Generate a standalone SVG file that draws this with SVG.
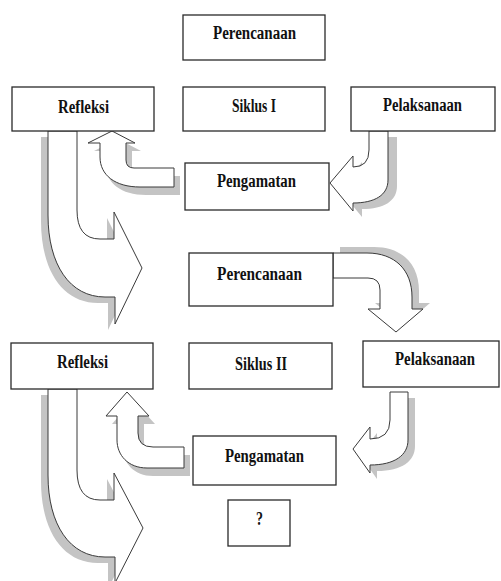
<svg xmlns="http://www.w3.org/2000/svg" xmlns:xlink="http://www.w3.org/1999/xlink" width="501" height="581" viewBox="0 0 501 581">
<style>
.box{fill:#fff;stroke:#2a2a2a;stroke-width:1.3}
.arr{fill:#fff;stroke:#3a3a3a;stroke-width:1}
.shd{fill:#c4c4c4;stroke:none}
text{font-family:"Liberation Serif","Times New Roman",serif;font-weight:bold;font-size:18px;fill:#111}
</style>
<defs>
<path id="A1" d="M48,131 L77,131 L77,210 Q77,239 100,239 L114,239 L114,212 L142,268 L115,324 L115,297 L105,297 C70,297 48,265 48,215 Z"/>
<path id="A2" d="M48,389 L77,389 L77,470 Q77,500 100,500 L114,500 L114,473 L143,528 L115,583 L115,557 L105,557 C70,557 48,525 48,475 Z"/>
<path id="U1" d="M112,131 L135,143 L126,143 L126,160 Q126,168 134,168 L174,168 L174,187 L140,187 C115,187 100,175 100,157 L100,143 L88,143 Z"/>
<path id="U2" d="M127,392 L149,416 L138,416 L138,433 Q138,447 153,447 L184,447 L184,468 L147,468 C128,468 117,455 117,440 L117,416 L106,416 Z"/>
<path id="P1" d="M369,131 L388,131 L388,180 C388,195 375,203 353,203 L353,211 L330,183 L353,156 L353,167 Q369,167 369,150 Z"/>
<path id="P2" d="M390,392 L408,392 L408,440 C408,455 395,465 370,465 L370,473 L353,449 L370,427 L370,439 Q390,439 390,420 Z"/>
<path id="D" d="M333,253 L367,253 C395,253 412,270 412,297 L412,309 L423,309 L396,332 L368,309 L380,309 L380,290 Q380,278 368,278 L333,278 Z"/>
</defs>
<g id="connectors">
<use xlink:href="#A1" class="shd" transform="translate(-7,6)"/>
<use xlink:href="#A2" class="shd" transform="translate(-7,6)"/>
<use xlink:href="#U1" class="shd" transform="translate(6,8)"/>
<use xlink:href="#U2" class="shd" transform="translate(6,8)"/>
<use xlink:href="#P1" class="shd" transform="translate(9,6)"/>
<use xlink:href="#P2" class="shd" transform="translate(7,6)"/>
<use xlink:href="#D" class="shd" transform="translate(7,-6)"/>
<use xlink:href="#A1" class="arr"/>
<use xlink:href="#A2" class="arr"/>
<use xlink:href="#U1" class="arr"/>
<use xlink:href="#U2" class="arr"/>
<use xlink:href="#P1" class="arr"/>
<use xlink:href="#P2" class="arr"/>
<use xlink:href="#D" class="arr"/>
</g>
<g id="perencanaan1"><rect class="box" x="183" y="15" width="142" height="45"/><text x="213" y="39" textLength="83" lengthAdjust="spacingAndGlyphs">Perencanaan</text></g>
<g id="refleksi1"><rect class="box" x="12" y="87" width="142" height="44"/><text x="58" y="113" textLength="51" lengthAdjust="spacingAndGlyphs">Refleksi</text></g>
<g id="siklus1"><rect class="box" x="183" y="87" width="142" height="44"/><text x="232" y="112" textLength="44" lengthAdjust="spacingAndGlyphs">Siklus I</text></g>
<g id="pelaksanaan1"><rect class="box" x="351" y="87" width="144" height="44"/><text x="383" y="111" textLength="79" lengthAdjust="spacingAndGlyphs">Pelaksanaan</text></g>
<g id="pengamatan1"><rect class="box" x="185" y="163" width="144" height="47"/><text x="217" y="187" textLength="79" lengthAdjust="spacingAndGlyphs">Pengamatan</text></g>
<g id="perencanaan2"><rect class="box" x="189" y="253" width="144" height="53"/><text x="217" y="280" textLength="85" lengthAdjust="spacingAndGlyphs">Perencanaan</text></g>
<g id="refleksi2"><rect class="box" x="11" y="343" width="142" height="46"/><text x="57" y="368" textLength="51" lengthAdjust="spacingAndGlyphs">Refleksi</text></g>
<g id="siklus2"><rect class="box" x="189" y="343" width="143" height="46"/><text x="235" y="370" textLength="52" lengthAdjust="spacingAndGlyphs">Siklus II</text></g>
<g id="pelaksanaan2"><rect class="box" x="363" y="341" width="136" height="46"/><text x="395" y="365" textLength="80" lengthAdjust="spacingAndGlyphs">Pelaksanaan</text></g>
<g id="pengamatan2"><rect class="box" x="193" y="436" width="143" height="49"/><text x="225" y="462" textLength="79" lengthAdjust="spacingAndGlyphs">Pengamatan</text></g>
<g id="question"><rect class="box" x="228" y="500" width="62" height="46"/><text x="256" y="525" textLength="7" lengthAdjust="spacingAndGlyphs">?</text></g>
</svg>
